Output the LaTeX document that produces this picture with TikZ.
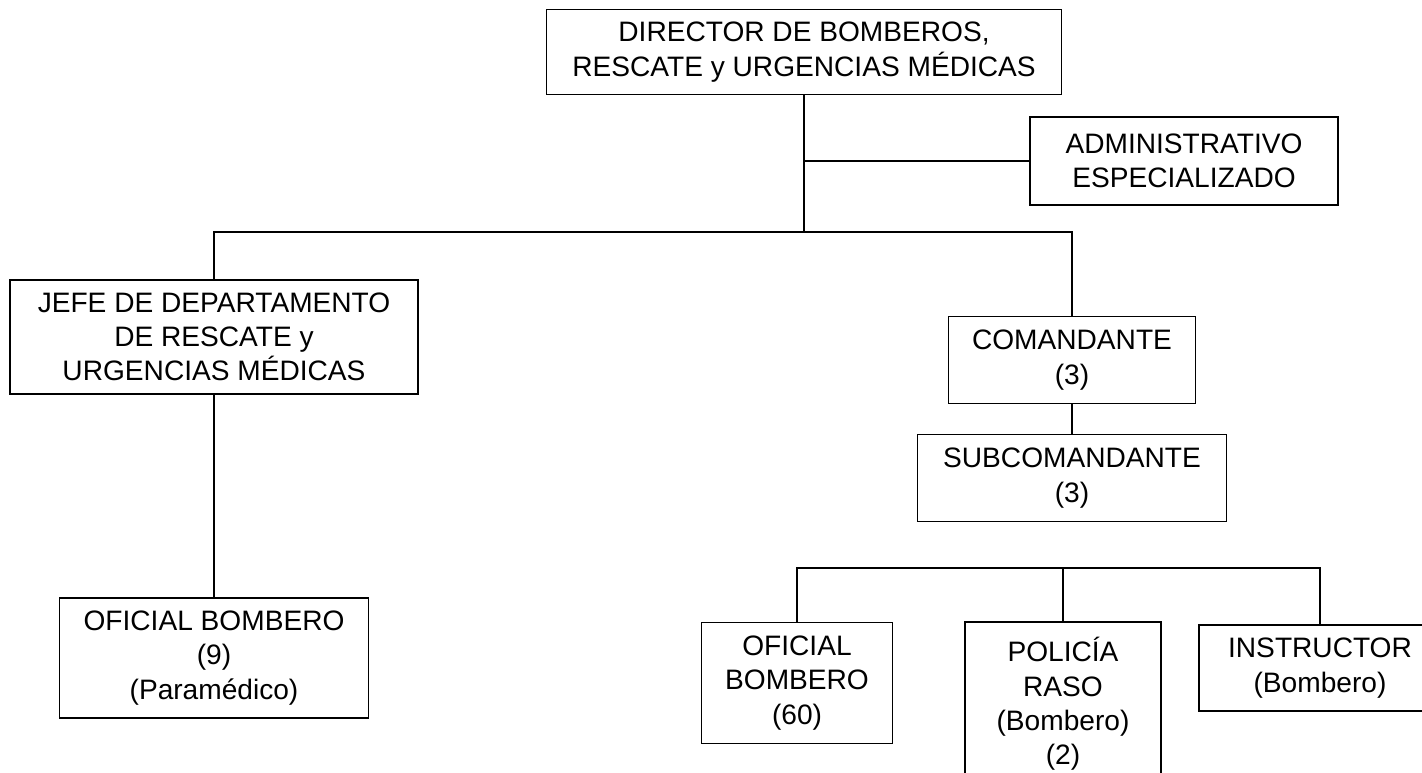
\documentclass[tikz,border=0pt]{standalone}
\usepackage{fontspec}
\setmainfont{Liberation Sans}
\begin{document}
\begin{tikzpicture}[x=0.02cm, y=-0.02cm]
    % Define styles
    \tikzset{
        orgbox/.style={draw, line width=1pt, inner sep=0pt, align=center, font=\fontsize{16}{19.5}\selectfont},
        orgline/.style={line width=1pt}
    }
    \useasboundingbox (0,0) rectangle (1422,773);
    \fill[white] (0,0) rectangle (1422,773);
    \clip (0,0) rectangle (1422,773);

    % Direction
    \node[orgbox, minimum width=10.3cm, minimum height=1.7cm] (dir) at (804,52) {DIRECTOR DE BOMBEROS,\\RESCATE y URGENCIAS MÉDICAS};
    \node[orgbox, minimum width=6.16cm, minimum height=1.76cm] (adm) at (1184,161) {ADMINISTRATIVO\\ESPECIALIZADO};

    % Rescue branch
    \node[orgbox, minimum width=8.16cm, minimum height=2.28cm] (jefe) at (214,337) {JEFE DE DEPARTAMENTO\\DE RESCATE y\\URGENCIAS MÉDICAS};
    \node[orgbox, minimum width=6.18cm, minimum height=2.4cm] (of9) at (214,658) {OFICIAL BOMBERO\\(9)\\(Paramédico)};

    % Fire branch
    \node[orgbox, minimum width=4.94cm, minimum height=1.74cm] (com) at (1072,360) {COMANDANTE\\(3)};
    \node[orgbox, minimum width=6.18cm, minimum height=1.74cm] (sub) at (1072,478) {SUBCOMANDANTE\\(3)};
    \node[orgbox, minimum width=3.82cm, minimum height=2.42cm] (of60) at (797,683) {OFICIAL\\BOMBERO\\(60)};
    \node[orgbox, minimum width=3.92cm, minimum height=3.28cm] (pol) at (1063,704) {POLICÍA\\RASO\\(Bombero)\\(2)};
    \node[orgbox, minimum width=4.84cm, minimum height=1.72cm] (ins) at (1320,668) {INSTRUCTOR\\(Bombero)};

    % Bus points
    \coordinate (topbus) at (804,232);
    \coordinate (lowbus) at (1063,568);

    % Connectors
    \draw[orgline] (dir.south) -- (topbus);
    \draw[orgline] (dir.south |- adm.west) -- (adm.west);
    \draw[orgline] (jefe.north) |- (topbus) -| (com.north);
    \draw[orgline] (jefe.south) -- (of9.north);
    \draw[orgline] (com.south) -- (sub.north);
    \draw[orgline] (of60.north) |- (lowbus) -| (ins.north);
    \draw[orgline] (lowbus) -- (pol.north);

\end{tikzpicture}
\end{document}
